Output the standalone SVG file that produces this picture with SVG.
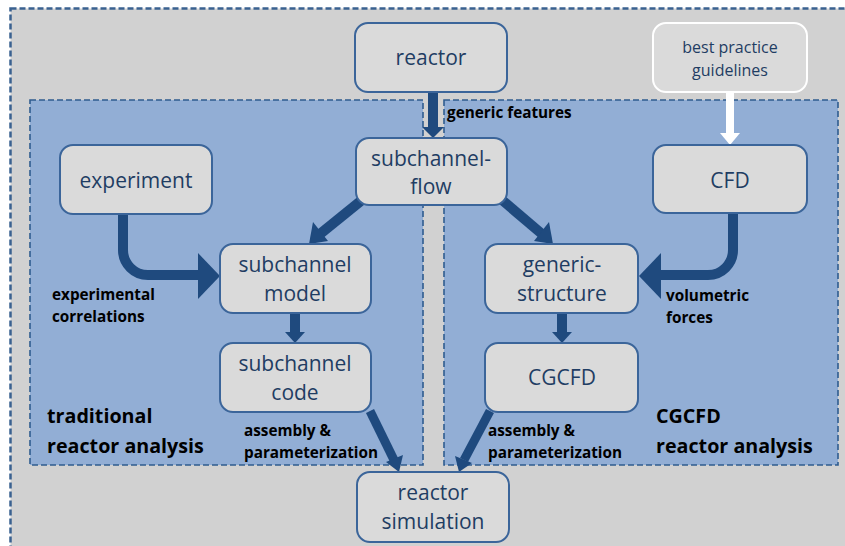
<svg xmlns="http://www.w3.org/2000/svg" width="845" height="546" viewBox="0 0 845 546">
<style>
.node rect{fill:#dadada;stroke:#3b659a;stroke-width:2}
.node text{font-family:"Open Sans","DejaVu Sans",sans-serif;font-size:21px;fill:#1f3d63;text-anchor:middle}
.node text.small{font-size:16px}
.panel{fill:#92aed5;stroke:#2f5c8f;stroke-width:1.6;stroke-dasharray:6 3}
.lbl{font-family:"Open Sans","DejaVu Sans",sans-serif;font-weight:bold;font-size:15.3px;fill:#000}
.big{font-family:"Open Sans","DejaVu Sans",sans-serif;font-weight:bold;font-size:19.7px;fill:#000}
.shaft{fill:none;stroke:#1f4a7e}
.head{fill:#1f4a7e}
</style>
<rect x="0" y="0" width="845" height="546" fill="#ffffff"/>
<rect x="10.5" y="8.5" width="850" height="560" fill="#d1d1d1" stroke="#3a6190" stroke-width="2.5" stroke-dasharray="6 3"/>
<g id="panels">
<rect class="panel" x="30" y="100" width="393" height="365"/>
<rect class="panel" x="444" y="100" width="394" height="365"/>
</g>
<g id="labels">
<text class="lbl" x="447" y="118">generic features</text>
<text class="lbl" x="52" y="300">experimental</text>
<text class="lbl" x="52" y="322">correlations</text>
<text class="big" x="47" y="423">traditional</text>
<text class="big" x="47" y="453">reactor analysis</text>
<text class="lbl" x="244" y="436">assembly &amp;</text>
<text class="lbl" x="244" y="458">parameterization</text>
<text class="lbl" x="488" y="436">assembly &amp;</text>
<text class="lbl" x="488" y="458">parameterization</text>
<text class="lbl" x="666" y="301">volumetric</text>
<text class="lbl" x="666" y="323">forces</text>
<text class="big" x="656" y="423">CGCFD</text>
<text class="big" x="656" y="453">reactor analysis</text>
</g>
<g id="connectors">
<line class="shaft" x1="433" y1="92" x2="433" y2="128" stroke-width="10"/>
<polygon class="head" points="422,127 444,127 433,138"/>
<line class="shaft" x1="362" y1="200" x2="320" y2="234" stroke-width="10"/>
<polygon class="head" points="313,222 328,241 309,244"/>
<line class="shaft" x1="502" y1="200" x2="542" y2="234" stroke-width="10"/>
<polygon class="head" points="534,241 549,222 553,244"/>
<path class="shaft" d="M123,214 V250 A25,25 0 0 0 148,275 H199" stroke-width="10"/>
<polygon class="head" points="198,253 220,276 198,299"/>
<path class="shaft" d="M733,213 V250 A25,25 0 0 1 708,275 H660" stroke-width="10"/>
<polygon class="head" points="661,253 639,276 661,299"/>
<line class="shaft" x1="295" y1="313" x2="295" y2="333" stroke-width="10"/>
<polygon class="head" points="285,332 305,332 295,343"/>
<line class="shaft" x1="562" y1="313" x2="562" y2="333" stroke-width="10"/>
<polygon class="head" points="552,332 572,332 562,343"/>
<line class="shaft" x1="370" y1="411" x2="394" y2="460" stroke-width="9"/>
<polygon class="head" points="386,462 403,455 399,472"/>
<line class="shaft" x1="490" y1="411" x2="464" y2="460" stroke-width="9"/>
<polygon class="head" points="455,456 472,463 459,472"/>
<line x1="730" y1="92" x2="730" y2="134" stroke="#ffffff" stroke-width="8"/>
<polygon points="720,133 740,133 730,145" fill="#ffffff"/>
</g>
<g id="reactor" class="node"><rect x="355" y="23" width="152" height="69" rx="13"/><text x="431" y="65">reactor</text></g>
<g id="best-practice" class="node"><rect x="653" y="23" width="154" height="69" rx="13" style="stroke:#ffffff"/><text class="small" x="730" y="53">best practice</text><text class="small" x="730" y="76">guidelines</text></g>
<g id="experiment" class="node"><rect x="60" y="145" width="152" height="69" rx="13"/><text x="136" y="188">experiment</text></g>
<g id="subchannel-flow" class="node"><rect x="356" y="138" width="151" height="67" rx="13"/><text x="431" y="166">subchannel-</text><text x="431" y="194">flow</text></g>
<g id="CFD" class="node"><rect x="653" y="145" width="154" height="68" rx="13"/><text x="730" y="188">CFD</text></g>
<g id="subchannel-model" class="node"><rect x="220" y="244" width="151" height="69" rx="13"/><text x="295" y="272">subchannel</text><text x="295" y="301">model</text></g>
<g id="subchannel-code" class="node"><rect x="220" y="343" width="151" height="69" rx="13"/><text x="295" y="371">subchannel</text><text x="295" y="400">code</text></g>
<g id="generic-structure" class="node"><rect x="485" y="244" width="153" height="69" rx="13"/><text x="562" y="272">generic-</text><text x="562" y="301">structure</text></g>
<g id="CGCFD" class="node"><rect x="485" y="343" width="153" height="69" rx="13"/><text x="562" y="385">CGCFD</text></g>
<g id="reactor-simulation" class="node"><rect x="357" y="472" width="152" height="70" rx="13"/><text x="433" y="500">reactor</text><text x="433" y="529">simulation</text></g>
</svg>
